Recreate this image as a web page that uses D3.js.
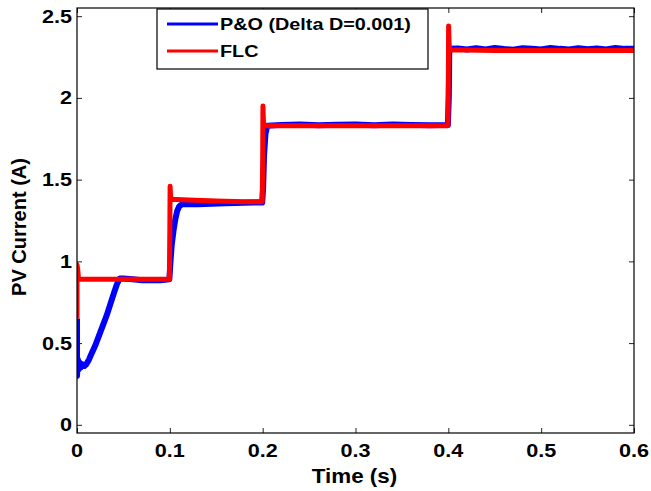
<!DOCTYPE html>
<html>
<head>
<meta charset="utf-8">
<script src="https://cdn.jsdelivr.net/npm/d3@7"></script>
<style>
body { margin: 0; background: #fff; }
text { font-family: "Liberation Sans", Arial, sans-serif; font-weight: bold; fill: #000; }
</style>
</head>
<body>
<div class="chart"></div>
<script>
var xTicks = [0, 0.1, 0.2, 0.3, 0.4, 0.5, 0.6];
var yTicks = [0, 0.5, 1, 1.5, 2, 2.5];
var seriesNames = ['P&O (Delta D=0.001)', 'FLC'];

// P&O (blue)
var poTime = [0, 0, 0.001, 0.002, 0.003, 0.004, 0.006, 0.008, 0.010, 0.013, 0.016, 0.020, 0.024, 0.028, 0.032, 0.036, 0.040, 0.043, 0.046, 0.050,
  0.060, 0.070, 0.080, 0.090, 0.0995, 0.1005, 0.102, 0.104, 0.106, 0.108, 0.110, 0.113, 0.130, 0.160, 0.190, 0.1995,
  0.2005, 0.2015, 0.203, 0.205, 0.220, 0.240, 0.260, 0.280, 0.300, 0.320, 0.340, 0.360, 0.380, 0.3995,
  0.4005, 0.401, 0.402, 0.410, 0.420, 0.430, 0.440, 0.450, 0.460, 0.470, 0.480, 0.490, 0.500, 0.510, 0.520, 0.530, 0.540, 0.550, 0.560, 0.570, 0.580, 0.590, 0.600];
var poCurrent = [0.65, 0.30, 0.40, 0.34, 0.38, 0.35, 0.37, 0.36, 0.37, 0.40, 0.44, 0.49, 0.55, 0.61, 0.67, 0.74, 0.81, 0.86, 0.895, 0.895,
  0.89, 0.885, 0.885, 0.885, 0.89, 0.98, 1.10, 1.19, 1.26, 1.31, 1.335, 1.35, 1.35, 1.355, 1.36, 1.36,
  1.45, 1.65, 1.78, 1.83, 1.835, 1.838, 1.832, 1.836, 1.838, 1.832, 1.837, 1.835, 1.832, 1.835,
  2.00, 2.28, 2.30, 2.303, 2.296, 2.304, 2.297, 2.305, 2.299, 2.295, 2.304, 2.30, 2.296, 2.306, 2.30, 2.296, 2.304, 2.298, 2.303, 2.296, 2.305, 2.30, 2.30];

// FLC (red)
var flcTime = [0, 0, 0.0008, 0.0015, 0.003, 0.020, 0.050, 0.080, 0.0995, 0.1, 0.1003, 0.1008, 0.1015, 0.120, 0.150, 0.180, 0.1995,
  0.2, 0.2003, 0.2008, 0.2015, 0.250, 0.300, 0.350, 0.3995, 0.4, 0.4003, 0.4008, 0.4015, 0.450, 0.500, 0.550, 0.600];
var flcCurrent = [0.65, 0.98, 0.95, 0.90, 0.89, 0.89, 0.89, 0.89, 0.89, 1.20, 1.46, 1.40, 1.38, 1.375, 1.37, 1.365, 1.365,
  1.60, 1.95, 1.86, 1.83, 1.83, 1.83, 1.83, 1.83, 2.10, 2.44, 2.33, 2.295, 2.29, 2.29, 2.29, 2.29];

var W = 651, H = 491;
var margin = {top: 8, right: 17, bottom: 58, left: 77};
var w = W - margin.left - margin.right;
var h = H - margin.top - margin.bottom;

var x = d3.scaleLinear().domain([0, 0.6]).range([0, w]);
var y = d3.scaleLinear().domain([-0.05, 2.55]).range([h, 0]);

var svg = d3.select('div.chart')
  .append('svg')
  .attr('width', W)
  .attr('height', H);

var g = svg.append('g')
  .attr('transform', 'translate(' + margin.left + ',' + margin.top + ')');

g.append('clipPath').attr('id', 'clip')
  .append('rect').attr('width', w).attr('height', h);

var line = d3.line()
  .x(function(d){ return x(d[0]); })
  .y(function(d){ return y(d[1]); });

var po = poTime.map(function(t, i){ return [t, poCurrent[i]]; });
var flc = flcTime.map(function(t, i){ return [t, flcCurrent[i]]; });

g.append('path')
  .datum(po)
  .attr('clip-path', 'url(#clip)')
  .attr('d', line)
  .attr('fill', 'none')
  .attr('stroke', '#0000ff')
  .attr('stroke-width', 6)
  .attr('stroke-linejoin', 'round');

g.append('path')
  .datum(flc)
  .attr('clip-path', 'url(#clip)')
  .attr('d', line)
  .attr('fill', 'none')
  .attr('stroke', '#ff0000')
  .attr('stroke-width', 5)
  .attr('stroke-linejoin', 'round');

// axes with inward ticks on all four sides
function styleAxis(sel) {
  sel.selectAll('.tick line').attr('stroke', '#222').attr('stroke-width', 1);
  sel.select('.domain').remove();
}
g.append('g').attr('transform', 'translate(0,' + h + ')')
  .call(d3.axisBottom(x).tickValues(xTicks).tickSizeInner(-5).tickSizeOuter(0).tickFormat(''))
  .call(styleAxis);
g.append('g')
  .call(d3.axisTop(x).tickValues(xTicks).tickSizeInner(-5).tickSizeOuter(0).tickFormat(''))
  .call(styleAxis);
g.append('g')
  .call(d3.axisLeft(y).tickValues(yTicks).tickSizeInner(-5).tickSizeOuter(0).tickFormat(''))
  .call(styleAxis);
g.append('g').attr('transform', 'translate(' + w + ',0)')
  .call(d3.axisRight(y).tickValues(yTicks).tickSizeInner(-5).tickSizeOuter(0).tickFormat(''))
  .call(styleAxis);

g.append('rect')
  .attr('width', w).attr('height', h)
  .attr('fill', 'none').attr('stroke', '#000').attr('stroke-width', 1.2);

// tick labels (slightly wide, like the source figure)
g.selectAll('.xlab')
  .data(xTicks)
  .enter().append('text')
  .attr('class', 'xlab')
  .attr('transform', function(d){ return 'translate(' + x(d) + ',' + (h + 24) + ') scale(1.2,1)'; })
  .attr('text-anchor', 'middle')
  .style('font-size', '18px')
  .text(function(d){ return d3.format('')(d); });

g.selectAll('.ylab')
  .data(yTicks)
  .enter().append('text')
  .attr('class', 'ylab')
  .attr('transform', function(d){ return 'translate(-5,' + (y(d) + 6.5) + ') scale(1.2,1)'; })
  .attr('text-anchor', 'end')
  .style('font-size', '18px')
  .text(function(d){ return d3.format('')(d); });

svg.append('text')
  .attr('transform', 'translate(' + (margin.left + w / 2 - 1) + ',483) scale(1.12,1)')
  .attr('text-anchor', 'middle')
  .style('font-size', '20px')
  .text('Time (s)');

svg.append('text')
  .attr('transform', 'translate(26,227) rotate(-90)')
  .attr('text-anchor', 'middle')
  .style('font-size', '20px')
  .text('PV Current (A)');

// legend
var legend = g.append('g').attr('transform', 'translate(80,1)');
legend.append('rect')
  .attr('width', 271).attr('height', 60)
  .attr('fill', '#fff').attr('stroke', '#000').attr('stroke-width', 1.2);
var colors = ['#0000ff', '#ff0000'];
seriesNames.forEach(function(name, i){
  var cy = 15 + i * 27;
  legend.append('line')
    .attr('x1', 10).attr('x2', 61)
    .attr('y1', cy).attr('y2', cy)
    .attr('stroke', colors[i]).attr('stroke-width', 3);
  legend.append('text')
    .attr('transform', 'translate(63,' + (cy + 6) + ') scale(1.2,1)')
    .style('font-size', '16.5px')
    .text(name);
});
</script>
</body>
</html>
